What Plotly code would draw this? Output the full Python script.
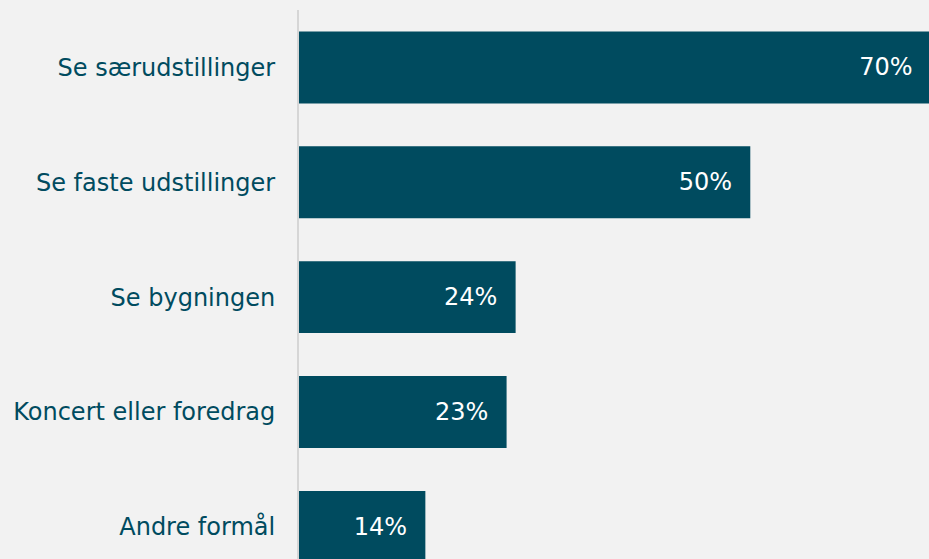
import plotly.graph_objects as go

# Purpose of the visit, share of respondents (%)
categories = [
    "Se særudstillinger",
    "Se faste udstillinger",
    "Se bygningen",
    "Koncert eller foredrag",
    "Andre formål",
]
shares = [70, 50, 24, 23, 14]
# trailing no-break spaces push the label in from the bar end
labels = [f"{v}%\u00a0\u00a0" for v in shares]

BAR = "#004b5f"
BG = "#f2f2f2"
FONT = "Verdana, DejaVu Sans, sans-serif"

fig = go.Figure(
    go.Bar(
        x=shares,
        y=categories,
        orientation="h",
        marker=dict(color=BAR, line=dict(width=0)),
        text=labels,
        textposition="inside",
        insidetextanchor="end",
        textfont=dict(family=FONT, size=24, color="#ffffff"),
    )
)

fig.update_layout(
    width=929,
    height=559,
    margin=dict(l=299, r=0, t=10, b=0),
    paper_bgcolor=BG,
    plot_bgcolor=BG,
    bargap=0.374,
    showlegend=False,
    font=dict(family=FONT, size=24, color=BAR),
)
fig.update_xaxes(range=[0, 69.8], visible=False)
fig.update_yaxes(
    categoryorder="array",
    categoryarray=categories,
    range=[4.28, -0.5],
    showline=True,
    linecolor="#d6d6d6",
    linewidth=2,
    showgrid=False,
    ticks="",
    ticklabelstandoff=17,
    tickfont=dict(family=FONT, size=24, color=BAR),
)

# drop the page margin so the figure fills the window
page_fix = "document.body.style.margin='0';document.body.style.background='#f2f2f2';"
fig.write_html("out.html", post_script=page_fix, config={"displayModeBar": False})
